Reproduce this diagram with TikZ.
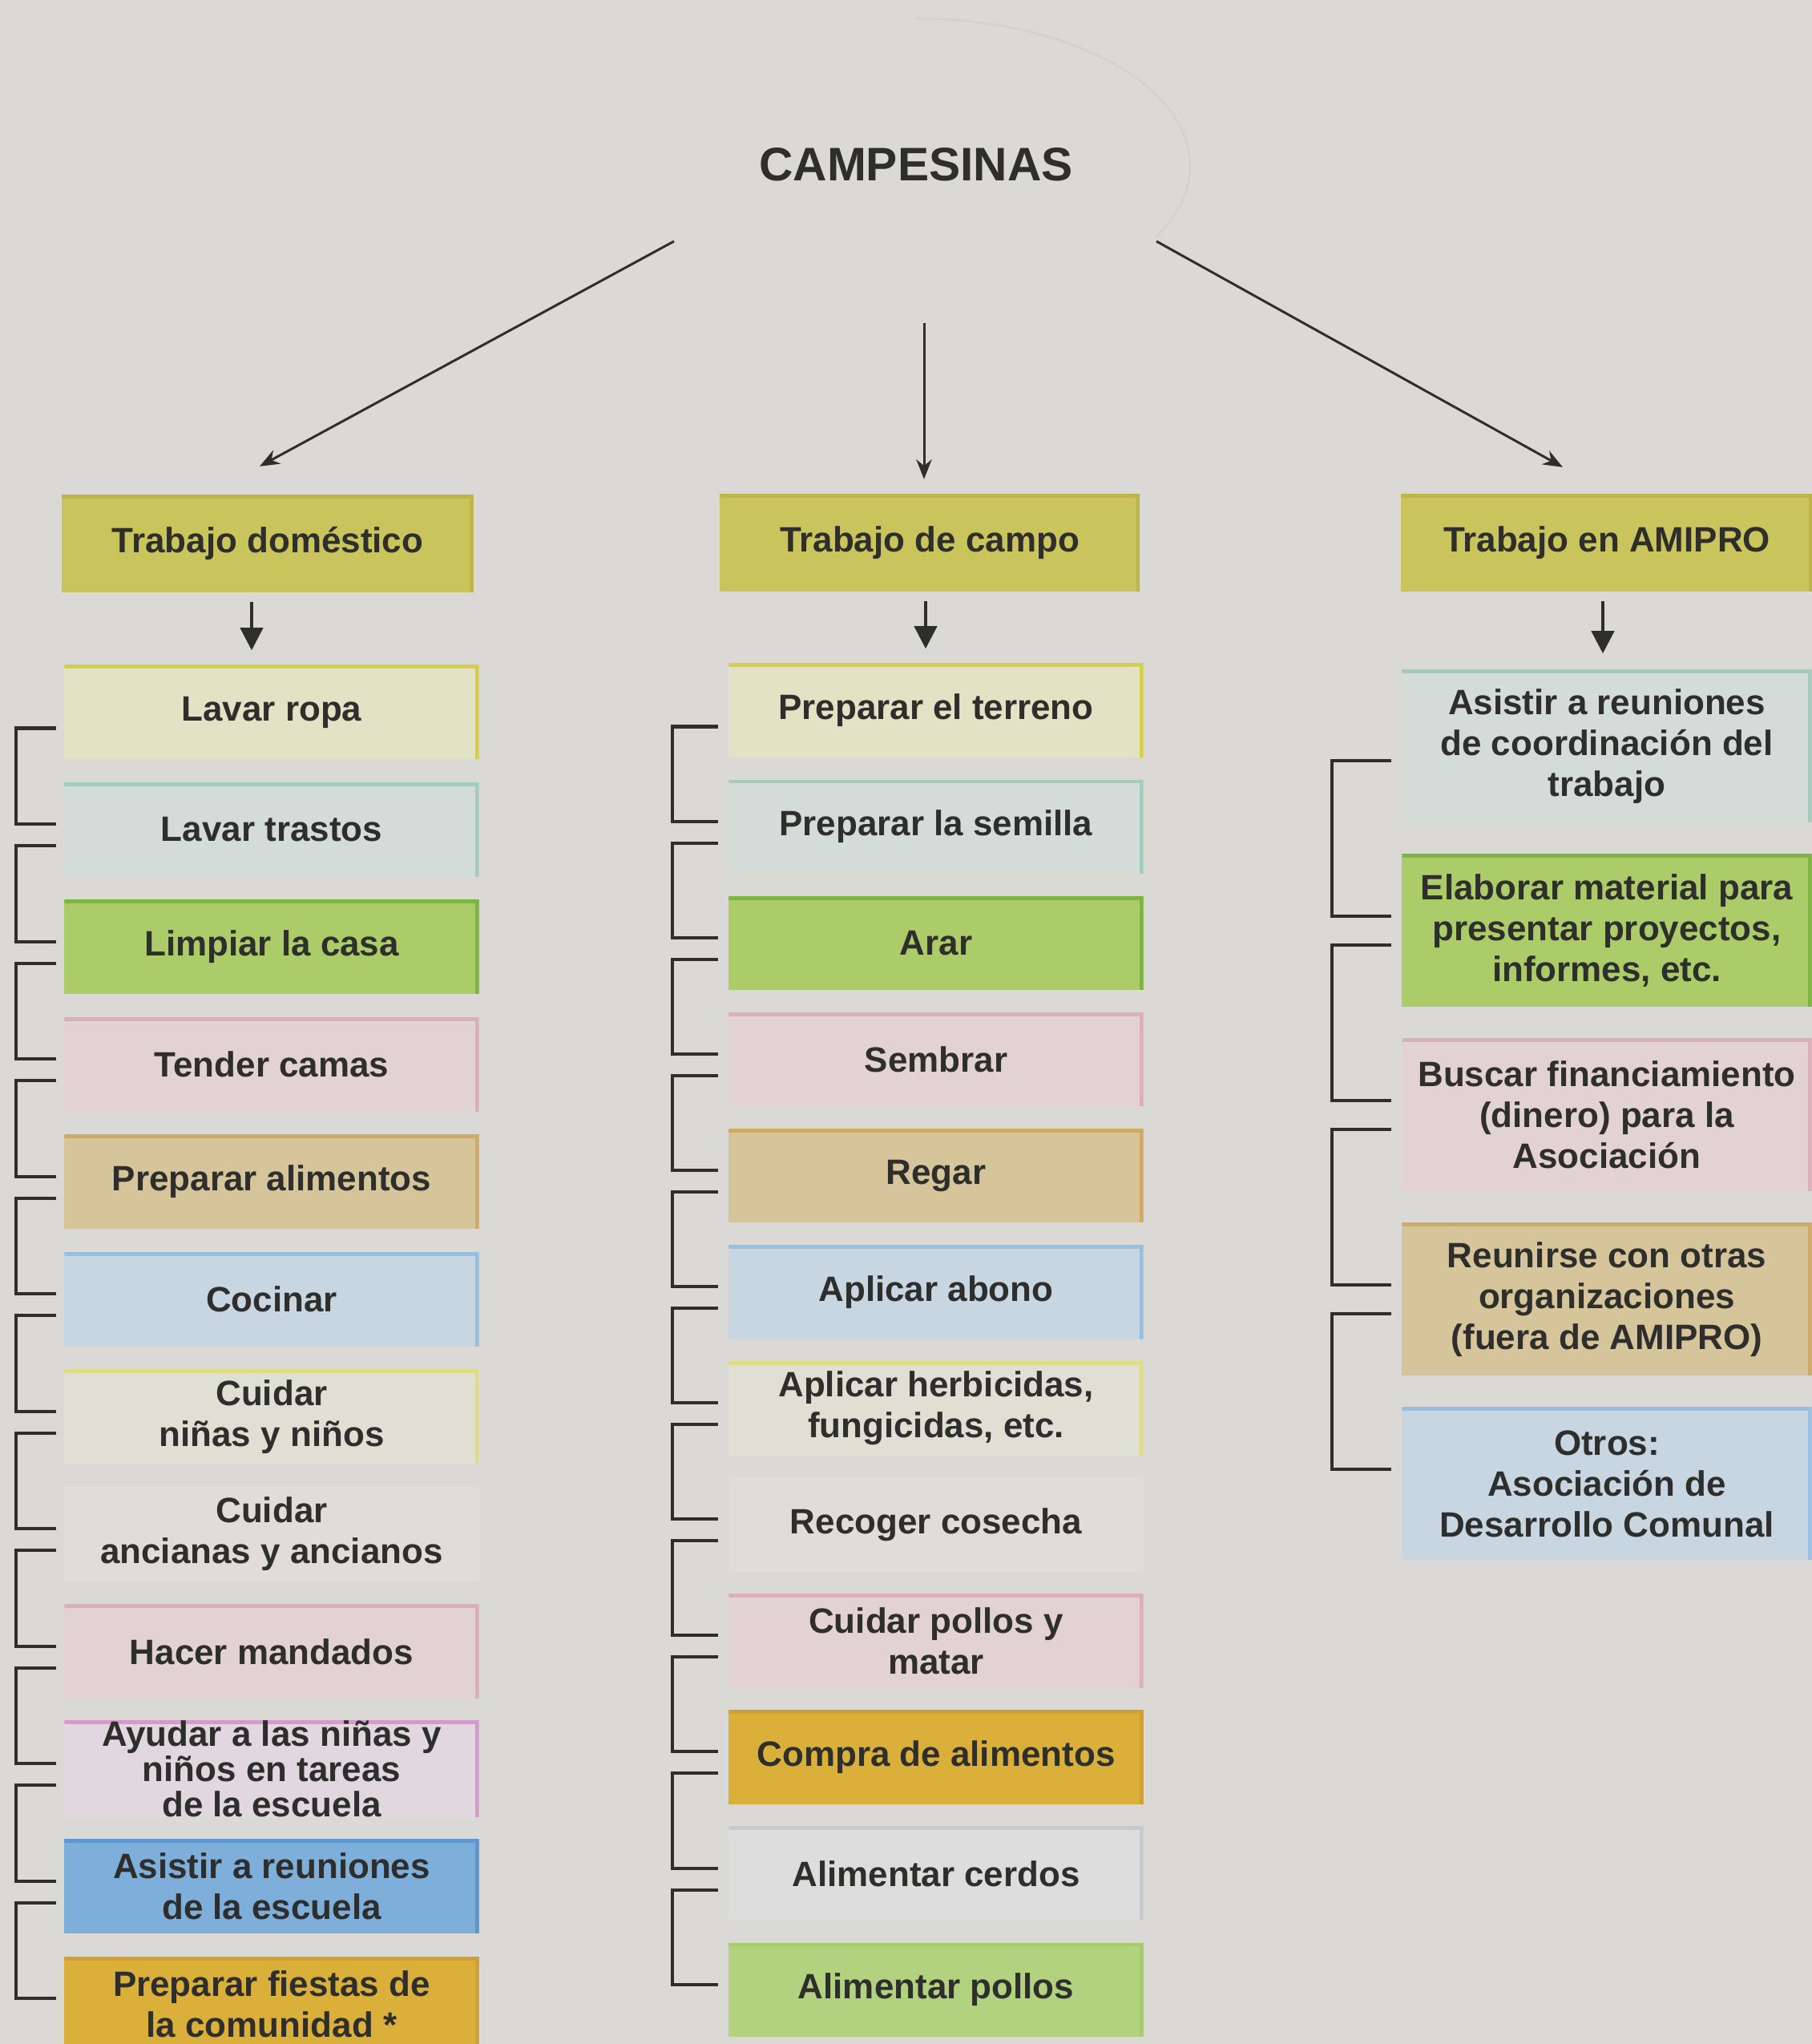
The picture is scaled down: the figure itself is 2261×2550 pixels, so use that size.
\documentclass[tikz,border=0pt]{standalone}
\usepackage{fontspec}
\setmainfont{Liberation Sans}
\usetikzlibrary{arrows.meta}

\definecolor{fondo}{HTML}{DAD9D6}
\definecolor{tinta}{HTML}{2E2E2C}
\definecolor{oliva}{HTML}{C9C45C}   \definecolor{olivaB}{HTML}{BDB44A}
\definecolor{amar}{HTML}{E2E2C4}    \definecolor{amarB}{HTML}{D6CE48}
\definecolor{verdea}{HTML}{D3DCD8}  \definecolor{verdeaB}{HTML}{A3CBBF}
\definecolor{verde}{HTML}{ACCC6A}   \definecolor{verdeB}{HTML}{7CB541}
\definecolor{rosa}{HTML}{E2D2D2}    \definecolor{rosaB}{HTML}{D9AFB9}
\definecolor{ocre}{HTML}{D6C49A}    \definecolor{ocreB}{HTML}{CEAA66}
\definecolor{celeste}{HTML}{C7D6E0} \definecolor{celesteB}{HTML}{98BFE0}
\definecolor{crema}{HTML}{E0DFD3}   \definecolor{cremaB}{HTML}{E0DC84}
\definecolor{palido}{HTML}{E0DCD9}
\definecolor{lila}{HTML}{E1D7DE}    \definecolor{lilaB}{HTML}{D49ACA}
\definecolor{azul}{HTML}{7EAEDA}    \definecolor{azulB}{HTML}{5F96D2}
\definecolor{oro}{HTML}{DAB03A}     \definecolor{oroB}{HTML}{D29E36}
\definecolor{gris}{HTML}{DCDDDC}    \definecolor{grisB}{HTML}{C6CACA}
\definecolor{verdec}{HTML}{B3D27F}  \definecolor{verdecB}{HTML}{A6CB6E}

\tikzset{
  tarea/.style 2 args={rectangle, fill=#1, text=tinta, inner sep=0pt, align=center,
    minimum width=5.17cm, minimum height=1.17cm,
    font=\bfseries\fontsize{12.5}{14.5}\selectfont,
    path picture={\draw[#2, line width=2.5pt] (path picture bounding box.north west)
      -- (path picture bounding box.north east) -- (path picture bounding box.south east);}},
  cabeza/.style 2 args={tarea={#1}{#2}, minimum width=5.13cm, minimum height=1.21cm},
  alta/.style={minimum width=5.11cm, minimum height=1.9cm}
}

\begin{document}
\begin{tikzpicture}[x=0.01cm, y=-0.01cm]
    \tikzstyle{corchete}=[draw=tinta, line width=1.15pt]
    \tikzstyle{flecha}=[draw=tinta, line width=0.85pt, -{Stealth[length=7pt, width=5.5pt]}]
    \tikzstyle{flechita}=[draw=tinta, line width=1.2pt, -{Triangle[length=8pt, width=8pt]}]

    \fill[fondo] (0,0) rectangle (2261,2550);
    \useasboundingbox (0,0) rectangle (2261,2550);

    % centro
    \node[text=tinta, font=\bfseries\fontsize{16.7}{20}\selectfont] (R) at (1143,205) {CAMPESINAS};
    \draw[black!18, line width=0.7pt] (R.center) ++(0,-182) arc[start angle=-90, end angle=29, x radius=342, y radius=184];

    % cabezas
    \node[cabeza={oliva}{olivaB}] (H_1) at (334,678) {Trabajo doméstico};
    \node[cabeza={oliva}{olivaB}, minimum width=5.24cm] (H_2) at (1160,677) {Trabajo de campo};
    \node[cabeza={oliva}{olivaB}] (H_3) at (2005,677) {Trabajo en AMIPRO};

    \draw[flecha] ([shift={(-302,96)}]R.center) -- ([shift={(-10,-35)}]H_1.north);
    \draw[flecha] ([shift={(10,198)}]R.center) -- ([shift={(-7,-18)}]H_2.north);
    \draw[flecha] ([shift={(300,96)}]R.center) -- ([shift={(-55,-33)}]H_3.north);

    % trabajo domestico
    \node[tarea={amar}{amarB}] (D_1) at (339,888.5) {Lavar ropa};
    \node[tarea={verdea}{verdeaB}] (D_2) at (339,1035) {Lavar trastos};
    \node[tarea={verde}{verdeB}] (D_3) at (339,1181.5) {Limpiar la casa};
    \node[tarea={rosa}{rosaB}] (D_4) at (339,1328) {Tender camas};
    \node[tarea={ocre}{ocreB}] (D_5) at (339,1474.5) {Preparar alimentos};
    \node[tarea={celeste}{celesteB}] (D_6) at (339,1621) {Cocinar};
    \node[tarea={crema}{cremaB}] (D_7) at (339,1767.5) {Cuidar\\niñas y niños};
    \node[tarea={palido}{palido}] (D_8) at (339,1914) {Cuidar\\ancianas y ancianos};
    \node[tarea={rosa}{rosaB}] (D_9) at (339,2060.5) {Hacer mandados};
    \node[tarea={lila}{lilaB}, font=\bfseries\fontsize{12.5}{12.5}\selectfont] (D_10) at (339,2207) {Ayudar a las niñas y\\niños en tareas\\de la escuela};
    \node[tarea={azul}{azulB}] (D_11) at (339,2353.5) {Asistir a reuniones\\de la escuela};
    \node[tarea={oro}{oroB}] (D_12) at (339,2500) {Preparar fiestas de\\la comunidad *};

    % trabajo de campo
    \node[tarea={amar}{amarB}] (C_1) at (1168,886.5) {Preparar el terreno};
    \node[tarea={verdea}{verdeaB}] (C_2) at (1168,1031.6) {Preparar la semilla};
    \node[tarea={verde}{verdeB}] (C_3) at (1168,1176.7) {Arar};
    \node[tarea={rosa}{rosaB}] (C_4) at (1168,1321.8) {Sembrar};
    \node[tarea={ocre}{ocreB}] (C_5) at (1168,1466.9) {Regar};
    \node[tarea={celeste}{celesteB}] (C_6) at (1168,1612) {Aplicar abono};
    \node[tarea={crema}{cremaB}] (C_7) at (1168,1757.1) {Aplicar herbicidas,\\fungicidas, etc.};
    \node[tarea={palido}{palido}] (C_8) at (1168,1902.2) {Recoger cosecha};
    \node[tarea={rosa}{rosaB}] (C_9) at (1168,2047.3) {Cuidar pollos y\\matar};
    \node[tarea={oro}{oroB}] (C_10) at (1168,2192.4) {Compra de alimentos};
    \node[tarea={gris}{grisB}] (C_11) at (1168,2337.5) {Alimentar cerdos};
    \node[tarea={verdec}{verdecB}] (C_12) at (1168,2482.6) {Alimentar pollos};

    % trabajo en AMIPRO
    \node[tarea={verdea}{verdeaB}, alta] (A_1) at (2005,931) {Asistir a reuniones\\de coordinación del\\trabajo};
    \node[tarea={verde}{verdeB}, alta] (A_2) at (2005,1161) {Elaborar material para\\presentar proyectos,\\informes, etc.};
    \node[tarea={rosa}{rosaB}, alta] (A_3) at (2005,1391) {Buscar financiamiento\\(dinero) para la\\Asociación};
    \node[tarea={ocre}{ocreB}, alta] (A_4) at (2005,1621) {Reunirse con otras\\organizaciones\\(fuera de AMIPRO)};
    \node[tarea={celeste}{celesteB}, alta] (A_5) at (2005,1851) {Otros:\\Asociación de\\Desarrollo Comunal};

    \draw[flechita] ([shift={(-20,12)}]H_1.south) -- ([shift={(-25,-18)}]D_1.north);
    \draw[flechita] ([shift={(-5,12)}]H_2.south) -- ([shift={(-13,-18)}]C_1.north);
    \draw[flechita] ([shift={(-5,12)}]H_3.south) -- ([shift={(-5,-20)}]A_1.north);

    % corchetes
    \foreach \i [evaluate=\i as \j using int(\i+1)] in {1,...,11} {
        \draw[corchete] ([shift={(-10,20)}]D_\i.west) -- ++(-50,0) |- ([shift={(-10,-7)}]D_\j.west);
        \draw[corchete] ([shift={(-13,20)}]C_\i.west) -- ++(-57,0) |- ([shift={(-13,-7)}]C_\j.west);
    }
    \foreach \i [evaluate=\i as \j using int(\i+1)] in {1,...,4}
        \draw[corchete] ([shift={(-13,18)}]A_\i.west) -- ++(-74,0) |- ([shift={(-13,-18)}]A_\j.west);
\end{tikzpicture}
\end{document}
